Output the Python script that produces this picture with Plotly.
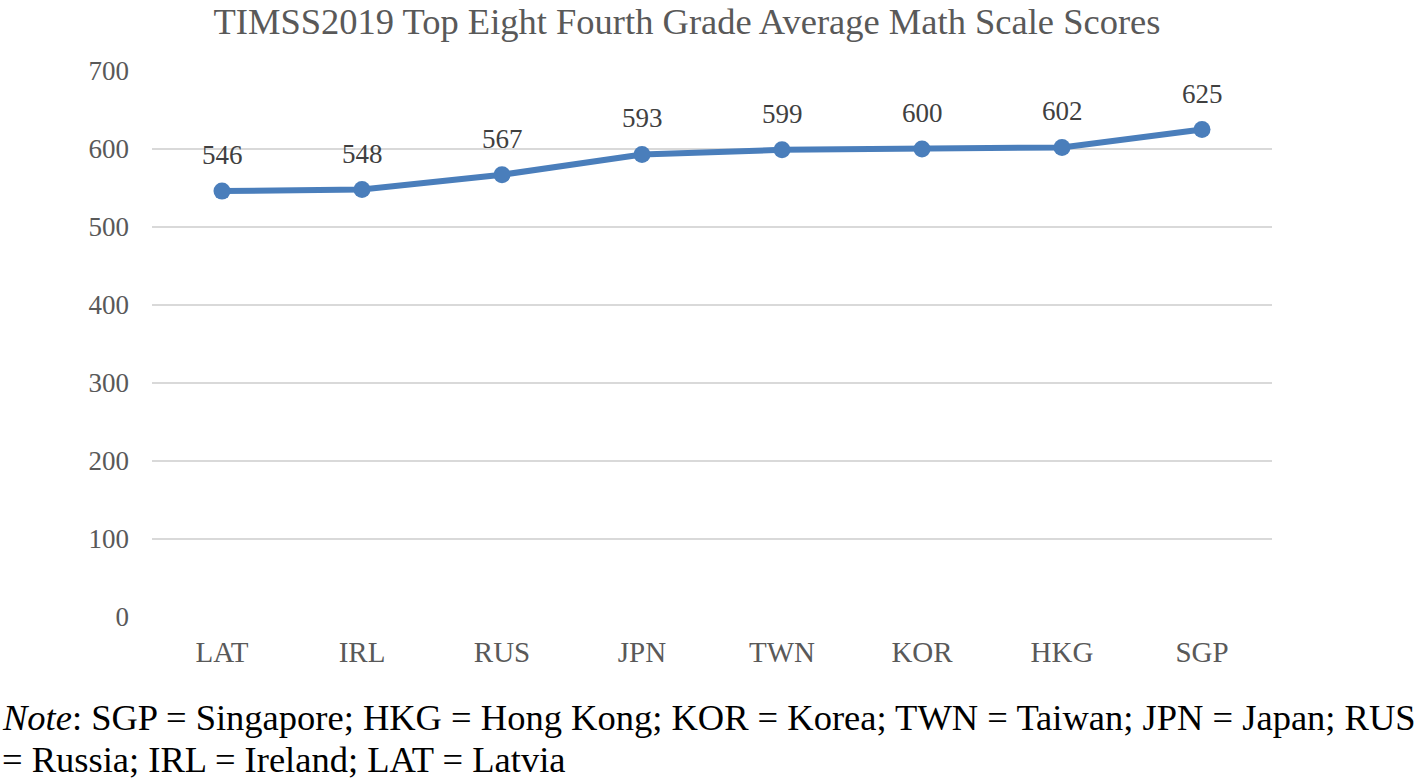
import plotly.graph_objects as go

# TIMSS 2019 grade 4 math, top eight systems
countries = ["LAT", "IRL", "RUS", "JPN", "TWN", "KOR", "HKG", "SGP"]
scores = [546, 548, 567, 593, 599, 600, 602, 625]
y_ticks = [0, 100, 200, 300, 400, 500, 600, 700]

_SERIF = "Liberation Serif, Times New Roman, serif"
_LINE_BLUE = "#4a7ebb"

W, H = 1418, 781
M_L, M_R, M_T, M_B = 152, 146, 71, 164
plot_w = W - M_L - M_R
plot_h = H - M_T - M_B

fig = go.Figure()
fig.add_trace(go.Scatter(
    x=countries, y=scores, mode="lines+markers",
    line=dict(color=_LINE_BLUE, width=6),
    marker=dict(color=_LINE_BLUE, size=17),
    hoverinfo="x+y", showlegend=False,
))

# data labels sit above each marker
for c, s in zip(countries, scores):
    fig.add_annotation(
        x=c, y=s, text=str(s), showarrow=False, yshift=36,
        font=dict(family=_SERIF, size=27, color="#404040"),
    )

# note under the chart, two lines flush left with the page
note_lines = [
    "<i>Note</i>: SGP = Singapore; HKG = Hong Kong; KOR = Korea; "
    "TWN = Taiwan; JPN = Japan; RUS",
    "= Russia; IRL = Ireland; LAT = Latvia",
]
for i, line in enumerate(note_lines):
    fig.add_annotation(
        xref="paper", yref="paper",
        x=-M_L / plot_w, y=-(100 + 42 * i) / plot_h,
        xanchor="left", yanchor="middle",
        text=line, showarrow=False, align="left",
        font=dict(family=_SERIF, size=36.5, color="#000000"),
    )

fig.update_layout(
    width=W, height=H,
    margin=dict(l=M_L, r=M_R, t=M_T, b=M_B),
    paper_bgcolor="white", plot_bgcolor="white",
    title=dict(
        text="TIMSS2019 Top Eight Fourth Grade Average Math Scale Scores",
        x=687 / W, xanchor="center", y=1 - 21 / H, yanchor="middle",
        font=dict(family=_SERIF, size=36.5, color="#595959"),
    ),
)
fig.update_xaxes(
    range=[-0.5, len(countries) - 0.5],
    showgrid=False, showline=False, zeroline=False,
    tickfont=dict(family=_SERIF, size=29, color="#595959"),
    ticklabelstandoff=15,
)
fig.update_yaxes(
    range=[0, 700], tickvals=y_ticks,
    showgrid=True, gridcolor="#d9d9d9", gridwidth=2,
    zeroline=False, showline=False,
    tickfont=dict(family=_SERIF, size=27, color="#595959"),
    ticklabelstandoff=22,
)

# drop the default page margin so the figure sits at the window's corner
fig.write_html(
    "out.html",
    config={"displayModeBar": False},
    post_script="document.body.style.margin = '0';",
)
